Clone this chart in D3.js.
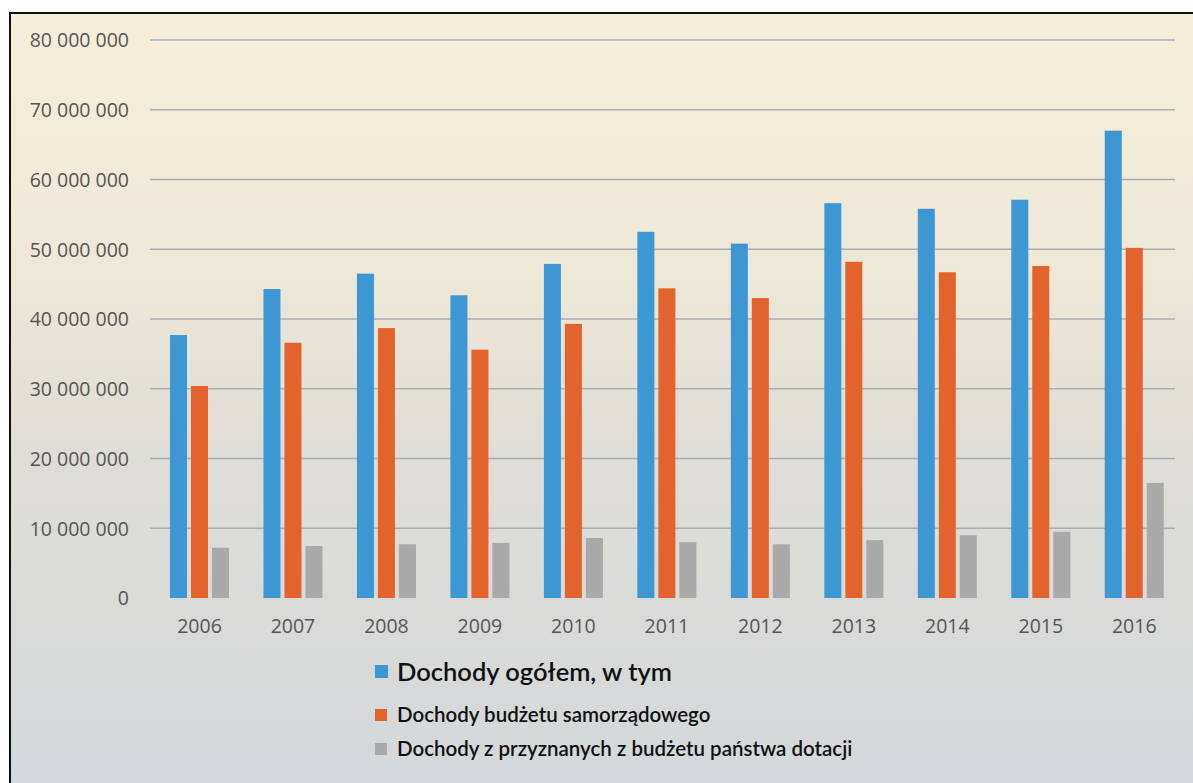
<!DOCTYPE html>
<html>
<head>
<meta charset="utf-8">
<script src="https://cdn.jsdelivr.net/npm/d3@7"></script>
<style>
html,body{margin:0;padding:0;background:#fff;}
svg{display:block;}
</style>
</head>
<body>
<svg id="chart" width="1193" height="783"></svg>
<script>
const years = ["2006","2007","2008","2009","2010","2011","2012","2013","2014","2015","2016"];
const seriesNames = ["Dochody ogółem, w tym","Dochody budżetu samorządowego","Dochody z przyznanych z budżetu państwa dotacji"];
const total   = [37.7e6,44.3e6,46.5e6,43.4e6,47.9e6,52.5e6,50.8e6,56.6e6,55.8e6,57.1e6,67.0e6];
const local   = [30.4e6,36.6e6,38.7e6,35.6e6,39.3e6,44.4e6,43.0e6,48.2e6,46.7e6,47.6e6,50.2e6];
const grants  = [7.2e6,7.45e6,7.7e6,7.9e6,8.6e6,8.0e6,7.7e6,8.3e6,9.0e6,9.5e6,16.5e6];
const yTicks  = [0,10e6,20e6,30e6,40e6,50e6,60e6,70e6,80e6];
const colors  = ["#3d97d3","#e2632b","#a9a9aa"];

const svg = d3.select("#chart");
const W = 1193, H = 783;

// background paper
const defs = svg.append("defs");
const grad = defs.append("linearGradient").attr("id","bg").attr("x1",0).attr("y1",0).attr("x2",0).attr("y2",1);
grad.append("stop").attr("offset","0%").attr("stop-color","#f5eed9");
grad.append("stop").attr("offset","35%").attr("stop-color","#ede7d6");
grad.append("stop").attr("offset","55%").attr("stop-color","#dfddd6");
grad.append("stop").attr("offset","100%").attr("stop-color","#d4d8db");
svg.append("rect").attr("x",0).attr("y",0).attr("width",W).attr("height",H).attr("fill","#fff");
svg.append("rect").attr("x",11).attr("y",14).attr("width",W-11).attr("height",H-14).attr("fill","url(#bg)");
// frame
svg.append("line").attr("x1",10).attr("y1",13).attr("x2",W).attr("y2",13).attr("stroke","#111").attr("stroke-width",2);
svg.append("line").attr("x1",10).attr("y1",12).attr("x2",10).attr("y2",H).attr("stroke","#111").attr("stroke-width",2);

const y = d3.scaleLinear().domain([0,80e6]).range([598,40]);
const x0 = d3.scaleBand().domain(years).range([152.75,1181]).paddingInner(0).paddingOuter(0);
const x1 = d3.scaleBand().domain([0,1,2]).range([0,59]).paddingInner(0.19).paddingOuter(0);

const fmt = v => d3.format(",")(v).replace(/,/g," ");

// y axis labels
const yAxis = d3.axisLeft(y).tickValues(yTicks).tickSize(0).tickPadding(0).tickFormat(fmt);
const gy = svg.append("g").attr("transform","translate(129,0)").call(yAxis);
gy.select(".domain").remove();
gy.selectAll("text").attr("font-family","'Open Sans',sans-serif").attr("font-size",19.5).attr("fill","#555").attr("dy","0.35em");

// grid
svg.append("g").selectAll("line").data(yTicks.filter(d=>d>0)).join("line")
  .attr("x1",150).attr("x2",1175)
  .attr("y1",d=>y(d)).attr("y2",d=>y(d))
  .attr("stroke","#a9aeb6").attr("stroke-width",1.5);

// bars
const data = years.map((yr,i)=>({yr, vals:[total[i],local[i],grants[i]]}));
const groups = svg.append("g").selectAll("g").data(data).join("g")
  .attr("transform",d=>`translate(${x0(d.yr)+x0.bandwidth()/2-29.5},0)`);
groups.selectAll("rect").data(d=>d.vals.map((v,k)=>({v,k}))).join("rect")
  .attr("x",d=>x1(d.k)).attr("width",x1.bandwidth())
  .attr("y",d=>y(d.v)).attr("height",d=>y(0)-y(d.v))
  .attr("fill",d=>colors[d.k]);

// x axis
const xAxis = d3.axisBottom(x0).tickSize(0).tickPadding(0);
const gx = svg.append("g").attr("transform","translate(0,619)").call(xAxis);
gx.select(".domain").remove();
gx.selectAll("text").attr("font-family","'Open Sans',sans-serif").attr("font-size",19.5).attr("fill","#555").attr("dy","0.72em");

// legend
const legendRows = [
  {name:seriesNames[0], c:colors[0], y:672, fs:25.5, ys:665, s:13},
  {name:seriesNames[1], c:colors[1], y:715, fs:20.5, ys:709, s:12},
  {name:seriesNames[2], c:colors[2], y:749, fs:20.5, ys:743, s:12}
];
const lg = svg.append("g");
lg.selectAll("rect").data(legendRows).join("rect")
  .attr("x",375).attr("y",d=>d.ys).attr("width",d=>d.s).attr("height",d=>d.s).attr("fill",d=>d.c);
lg.selectAll("text").data(legendRows).join("text")
  .attr("x",397).attr("y",d=>d.y).attr("dy","0.35em")
  .attr("font-family","Lato,'Open Sans',sans-serif").attr("font-weight",600)
  .attr("font-size",d=>d.fs).attr("fill","#111").text(d=>d.name);
</script>
</body>
</html>
